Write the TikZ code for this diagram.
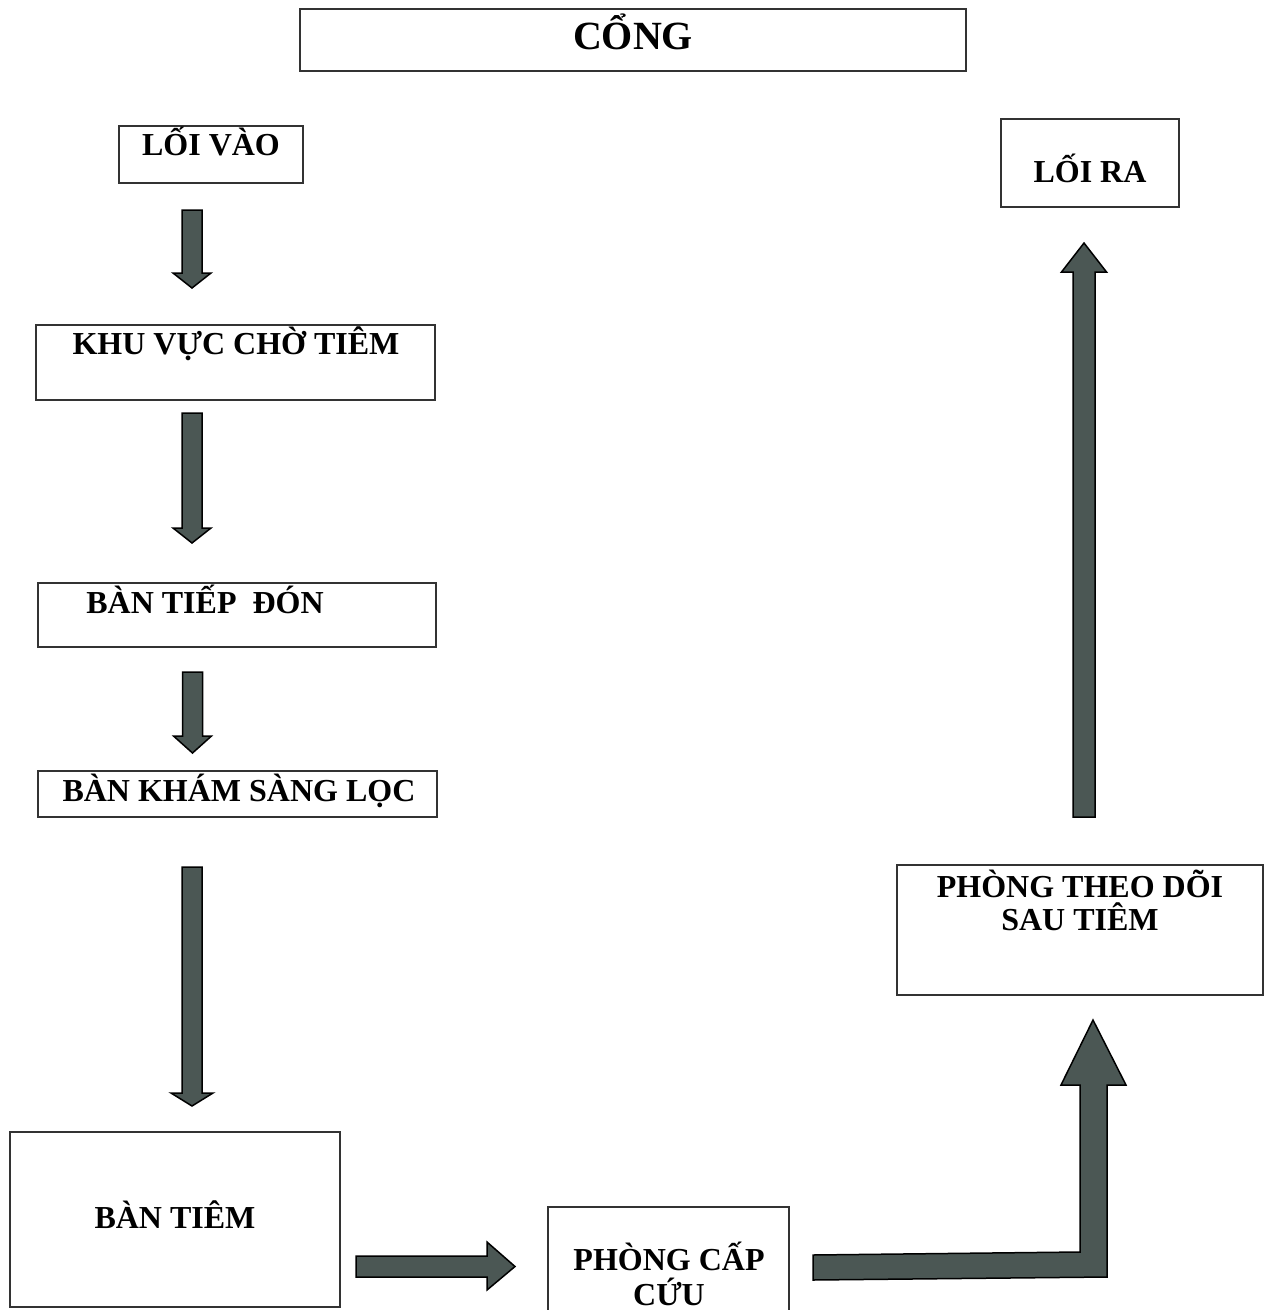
\documentclass[tikz,border=0pt]{standalone}
\usepackage{fontspec}
\setmainfont{Liberation Serif}
\definecolor{arrowfill}{HTML}{4B5754}
\definecolor{boxline}{HTML}{333333}
\newcommand{\VArrow}[6]{% x, ystart, ybase, ytip, shaft half, head half
  \draw[blockarrow] ({#1-#5},#2) -- ({#1-#5},#3) -- ({#1-#6},#3) -- (#1,#4)
    -- ({#1+#6},#3) -- ({#1+#5},#3) -- ({#1+#5},#2) -- cycle;}
\begin{document}
\begin{tikzpicture}[x=1pt,y=-1pt,
  box/.style={draw=boxline,line width=1.6pt,rectangle,inner sep=0pt,fill=none},
  lbl/.style={font=\fontsize{32}{34}\selectfont\bfseries,anchor=base,inner sep=0pt},
  blockarrow/.style={fill=arrowfill,draw=black,line width=1.5pt,line join=miter}]
\useasboundingbox (0,0) rectangle (1271,1310);
\fill[white] (0,0) rectangle (1271,1310);
% boxes
\node[box,minimum width=666pt,minimum height=62pt] (cong) at (633,40) {};
\node[box,minimum width=184pt,minimum height=57pt] (lv) at (211,154.5) {};
\node[box,minimum width=399pt,minimum height=75pt] (kv) at (235.5,362.5) {};
\node[box,minimum width=398pt,minimum height=64pt] (btd) at (237,615) {};
\node[box,minimum width=399pt,minimum height=46pt] (bks) at (237.5,794) {};
\node[box,minimum width=330pt,minimum height=175pt] (bt) at (175,1219.5) {};
\node[box,minimum width=241pt,minimum height=120pt] (pcc) at (668.5,1267) {};
\node[box,minimum width=366pt,minimum height=130pt] (ptd) at (1080,930) {};
\node[box,minimum width=178pt,minimum height=88pt] (lr) at (1090,163) {};
% texts
\node[lbl,font=\fontsize{40}{42}\selectfont\bfseries] (tcong) at (633,49) {CỔNG};
\node[lbl] (tlv) at (211,155) {LỐI VÀO};
\node[lbl] (tkv) at (236,354) {KHU VỰC CHỜ TIÊM};
\node[lbl] (tbtd) at (205,613) {BÀN TIẾP\ \ ĐÓN};
\node[lbl] (tbks) at (239,801) {BÀN KHÁM SÀNG LỌC};
\node[lbl] (tbt) at (175,1228) {BÀN TIÊM};
\node[lbl] (tpcc1) at (669,1270) {PHÒNG CẤP};
\node[lbl] (tpcc2) at (669,1305) {CỨU};
\node[lbl] (tptd1) at (1080,897) {PHÒNG THEO DÕI};
\node[lbl] (tptd2) at (1080,930) {SAU TIÊM};
\node[lbl] (tlr) at (1090,182) {LỐI RA};
% block arrows
\VArrow{192}{210}{273}{288}{10}{19}
\VArrow{192}{413}{528}{543}{10}{19}
\VArrow{192.5}{672}{736}{753}{10}{19}
\VArrow{192}{867}{1093}{1106}{10}{21}
\VArrow{1084}{817}{272}{243}{11}{22.5}
\draw[blockarrow] (356,1256) -- (487,1256) -- (487,1242) -- (515,1266.5)
  -- (487,1290) -- (487,1277) -- (356,1277) -- cycle;
\draw[blockarrow] (813,1255) -- (1080,1252) -- (1080,1085) -- (1061,1085)
  -- (1093,1020) -- (1126,1085) -- (1107,1085) -- (1107,1277) -- (813,1280) -- cycle;
\end{tikzpicture}
\end{document}
